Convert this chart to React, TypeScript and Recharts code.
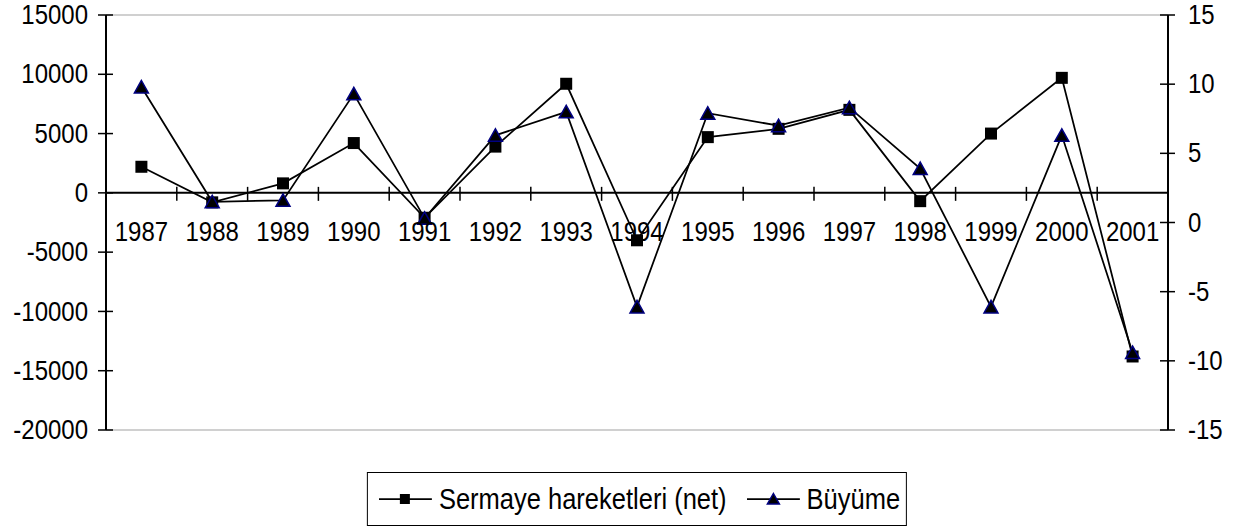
import React from 'react';
import { ComposedChart, Line, XAxis, YAxis, ReferenceLine } from 'recharts';

const years = ['1987', '1988', '1989', '1990', '1991', '1992', '1993', '1994', '1995', '1996', '1997', '1998', '1999', '2000', '2001'];
const sermaye = [2200, -800, 800, 4200, -2100, 3900, 9200, -4000, 4700, 5400, 7000, -700, 5000, 9700, -13800];
const buyume = [9.8, 1.5, 1.6, 9.3, 0.3, 6.3, 8.0, -6.1, 7.9, 7.0, 8.3, 3.9, -6.1, 6.3, -9.4];
const leftTicks = [-20000, -15000, -10000, -5000, 0, 5000, 10000, 15000];
const rightTicks = [-15, -10, -5, 0, 5, 10, 15];
const seriesNames = ['Sermaye hareketleri (net)', 'Büyüme'];

const W = 1240;
const H = 529;
const M = { top: 15, right: 0, bottom: 69, left: 0 };
const LEFT_W = 106;
const RIGHT_W = 72;
const X_H = 30;
const PLOT_W = W - LEFT_W - RIGHT_W;
const PLOT_H = H - M.top - M.bottom - X_H;
const FONT = '"Liberation Sans", Arial, sans-serif';
const NAVY = '#000080';
const STRETCH = 1.12; // the source picture is a bit taller than wide

const data = years.map((y, i) => ({ year: y, sermaye: sermaye[i], buyume: buyume[i] }));

const LMAX = leftTicks[leftTicks.length - 1];
const LMIN = leftTicks[0];
// pixel row of the left axis zero (the category axis sits there)
const zeroY = M.top + (PLOT_H * LMAX) / (LMAX - LMIN);

const Label = ({ x, y, anchor, dy, children }: any) => (
    <text
        transform={`translate(${x} ${y}) scale(1 ${STRETCH})`}
        x={0}
        y={0}
        dy={dy}
        textAnchor={anchor}
        fontSize={24}
        fontFamily={FONT}
        fill="#000"
    >
        {children}
    </text>
);

const XTick = ({ x, payload, index }: any) => {
    const bw = PLOT_W / years.length;
    return (
        <g>
            {index > 0 && (
                <line x1={x - bw / 2} x2={x - bw / 2} y1={zeroY - 6} y2={zeroY + 8} stroke="#000" strokeWidth={1.5} />
            )}
            <Label x={x} y={zeroY + 48} anchor="middle">
                {payload.value}
            </Label>
        </g>
    );
};

const L_MARGIN = 18;
const R_MARGIN = 20;

const LeftTick = ({ x, y, payload }: any) => {
    const ax = x + L_MARGIN;
    return (
        <g>
            <line x1={ax - 8} x2={ax + 7} y1={y} y2={y} stroke="#000" strokeWidth={1.5} />
            <Label x={x} y={y} dy="0.34em" anchor="end">
                {payload.value}
            </Label>
        </g>
    );
};

const RightTick = ({ x, y, payload }: any) => {
    const ax = x - R_MARGIN;
    return (
        <g>
            <line x1={ax - 8} x2={ax + 7} y1={y} y2={y} stroke="#000" strokeWidth={1.5} />
            <Label x={x} y={y} dy="0.34em" anchor="start">
                {payload.value}
            </Label>
        </g>
    );
};

const Square = (props: any) => {
    const { cx, cy, index } = props;
    if (cx == null || cy == null) return <g key={`s-${index}`} />;
    return <rect key={`s-${index}`} x={cx - 6} y={cy - 6} width={12} height={12} fill="#000" />;
};

const Triangle = (props: any) => {
    const { cx, cy, index } = props;
    if (cx == null || cy == null) return <g key={`t-${index}`} />;
    return (
        <polygon
            key={`t-${index}`}
            points={`${cx},${cy - 6.5} ${cx - 7},${cy + 6} ${cx + 7},${cy + 6}`}
            fill="#000"
            stroke={NAVY}
            strokeWidth={1.5}
        />
    );
};

const LegendItem = ({ name, marker }: { name: string; marker: 'square' | 'triangle' }) => (
    <div style={{ display: 'flex', alignItems: 'center' }}>
        <svg width={53} height={20} style={{ display: 'block' }}>
            <line x1={0} x2={53} y1={10} y2={10} stroke="#000" strokeWidth={1.75} />
            {marker === 'square' ? (
                <rect x={21} y={5} width={10} height={10} fill="#000" />
            ) : (
                <polygon points="26.5,4.5 20.5,15 32.5,15" fill="#000" stroke={NAVY} strokeWidth={1.5} />
            )}
        </svg>
        <span style={{ marginLeft: 7, whiteSpace: 'nowrap', display: 'inline-block', transform: `scaleY(${STRETCH})` }}>
            {name}
        </span>
    </div>
);

export default function App() {
    return (
        <div style={{ position: 'absolute', left: 0, top: 0, width: W, height: H, background: '#fff' }}>
            <ComposedChart width={W} height={H} data={data} margin={M}>
                <ReferenceLine yAxisId="left" y={LMAX} stroke="#c0c0c0" strokeWidth={1.5} />
                <ReferenceLine yAxisId="left" y={LMIN} stroke="#c0c0c0" strokeWidth={1.5} />
                <XAxis
                    dataKey="year"
                    scale="band"
                    height={X_H}
                    axisLine={false}
                    tickLine={false}
                    interval={0}
                    tick={<XTick />}
                />
                <YAxis
                    yAxisId="left"
                    orientation="left"
                    width={LEFT_W}
                    domain={[LMIN, LMAX]}
                    ticks={leftTicks}
                    allowDataOverflow
                    axisLine={{ stroke: '#000', strokeWidth: 2 }}
                    tickLine={false}
                    tickSize={0}
                    tickMargin={L_MARGIN}
                    tick={<LeftTick />}
                />
                <YAxis
                    yAxisId="right"
                    orientation="right"
                    width={RIGHT_W}
                    domain={[rightTicks[0], rightTicks[rightTicks.length - 1]]}
                    ticks={rightTicks}
                    allowDataOverflow
                    axisLine={{ stroke: '#000', strokeWidth: 2 }}
                    tickLine={false}
                    tickSize={0}
                    tickMargin={R_MARGIN}
                    tick={<RightTick />}
                />
                <ReferenceLine yAxisId="left" y={0} stroke="#000" strokeWidth={2} />
                <Line
                    yAxisId="left"
                    type="linear"
                    dataKey="sermaye"
                    name={seriesNames[0]}
                    stroke="#000"
                    strokeWidth={1.75}
                    dot={Square}
                    activeDot={false}
                    isAnimationActive={false}
                />
                <Line
                    yAxisId="right"
                    type="linear"
                    dataKey="buyume"
                    name={seriesNames[1]}
                    stroke="#000"
                    strokeWidth={1.75}
                    dot={Triangle}
                    activeDot={false}
                    isAnimationActive={false}
                />
            </ComposedChart>
            <div
                style={{
                    position: 'absolute',
                    left: LEFT_W + PLOT_W / 2,
                    top: 472,
                    transform: 'translateX(-50%)',
                    height: 54,
                    boxSizing: 'border-box',
                    border: '1.5px solid #000',
                    display: 'flex',
                    alignItems: 'center',
                    gap: 20,
                    padding: '0 6px 0 11px',
                    fontFamily: FONT,
                    fontSize: 25.5,
                    color: '#000',
                    background: '#fff',
                }}
            >
                <LegendItem name={seriesNames[0]} marker="square" />
                <LegendItem name={seriesNames[1]} marker="triangle" />
            </div>
        </div>
    );
}
